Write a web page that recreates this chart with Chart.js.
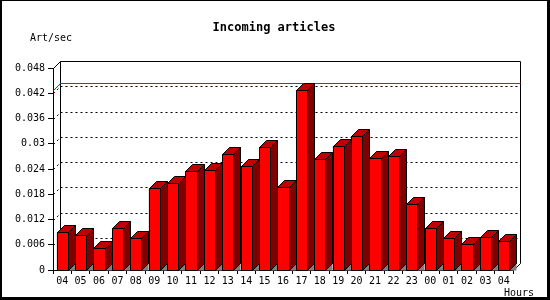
<!DOCTYPE html>
<html lang="en">
<head>
  <meta charset="UTF-8">
  <title>Incoming articles</title>
  <style>
    html, body {
      margin: 0;
      padding: 0;
      background: #fff;
    }
    #wrap {
      width: 550px;
      height: 300px;
    }
  </style>
</head>
<body>
  <div id="wrap"><canvas id="articlesChart" width="550" height="300"></canvas></div>

  <script src="https://cdn.jsdelivr.net/npm/chart.js"></script>
  <script>
    // data
    const hours = ['04', '05', '06', '07', '08', '09', '10', '11', '12', '13', '14', '15', '16',
                   '17', '18', '19', '20', '21', '22', '23', '00', '01', '02', '03', '04'];
    const artPerSec = [0.0090, 0.0082, 0.0052, 0.0100, 0.0075, 0.0194, 0.0206, 0.0235, 0.0237,
                       0.0275, 0.0247, 0.0292, 0.0197, 0.0428, 0.0264, 0.0295, 0.0318, 0.0265,
                       0.0271, 0.0158, 0.0100, 0.0076, 0.0061, 0.0078, 0.0068];
    const yTickValues = [0, 0.006, 0.012, 0.018, 0.024, 0.03, 0.036, 0.042, 0.048];
    const yTickLabels = ['0', '0.006', '0.012', '0.018', '0.024', '0.03', '0.036', '0.042', '0.048'];

    const DEPTH = 7; // 3d offset in px
    const MONO = '"DejaVu Sans Mono", monospace';

    Chart.defaults.font.family = MONO;
    Chart.defaults.font.size = 10;
    Chart.defaults.color = '#000';

    const line = (ctx, x1, y1, x2, y2) => {
      ctx.beginPath();
      ctx.moveTo(x1, y1);
      ctx.lineTo(x2, y2);
      ctx.stroke();
    };

    const poly = (ctx, pts, fill, stroke) => {
      ctx.beginPath();
      ctx.moveTo(pts[0][0], pts[0][1]);
      for (let i = 1; i < pts.length; i++) ctx.lineTo(pts[i][0], pts[i][1]);
      ctx.closePath();
      ctx.fillStyle = fill;
      ctx.fill();
      if (stroke) {
        ctx.strokeStyle = stroke;
        ctx.stroke();
      }
    };

    // back wall, dashed grid and max line, drawn behind the bars
    const backWall = {
      id: 'backWall',
      beforeDatasetsDraw(chart) {
        const { ctx, chartArea: a, scales: { y } } = chart;
        const d = DEPTH;
        const L = Math.round(a.left) + 0.5, R = Math.round(a.right) + 0.5;
        const T = Math.round(a.top) + 0.5, B = Math.round(a.bottom) + 0.5;
        ctx.save();
        ctx.lineWidth = 1;
        ctx.strokeStyle = '#000';

        ctx.setLineDash([2, 3]);
        yTickValues.slice(1, -1).forEach(v => {
          const py = Math.round(y.getPixelForValue(v)) + 0.5;
          line(ctx, L, py, L + d, py - d);
          line(ctx, L + d, py - d, R + d, py - d);
        });
        ctx.setLineDash([]);

        line(ctx, L, T, L + d, T - d);
        line(ctx, L + d, T - d, R + d, T - d);
        line(ctx, L + d, T - d, L + d, B - d);
        line(ctx, R + d, T - d, R + d, B - d);
        line(ctx, R, B, R + d, B - d);

        // red line at the peak value
        const peak = Math.max(...artPerSec);
        const pm = Math.round(y.getPixelForValue(peak)) + 0.5;
        ctx.strokeStyle = '#ff0000';
        line(ctx, L, pm, L + d, pm - d);
        line(ctx, L + d, pm - d, R + d, pm - d);
        ctx.restore();
      }
    };

    // top and side faces of every bar, from the bar elements
    const bars3d = {
      id: 'bars3d',
      afterDatasetsDraw(chart) {
        const { ctx } = chart;
        const d = DEPTH;
        ctx.save();
        ctx.lineWidth = 1;
        chart.getDatasetMeta(0).data.forEach(el => {
          const p = el.getProps(['x', 'y', 'base', 'width'], true);
          const l = Math.round(p.x - p.width / 2) + 0.5;
          const r = Math.round(p.x + p.width / 2) + 0.5;
          const t = Math.round(p.y) + 0.5;
          const b = Math.round(p.base) + 0.5;
          poly(ctx, [[r, b], [r + d, b - d], [r + d, b]], '#808080');
          poly(ctx, [[l, t], [r, t], [r, b], [l, b]], '#ff0000', '#000');
          poly(ctx, [[l, t], [l + d, t - d], [r + d, t - d], [r, t]], '#c00000', '#000');
          poly(ctx, [[r, t], [r + d, t - d], [r + d, b - d], [r, b]], '#800000', '#000');
        });
        ctx.restore();
      }
    };

    // titles and frame
    const labels = {
      id: 'labels',
      afterDraw(chart) {
        const { ctx } = chart;
        ctx.save();
        ctx.fillStyle = '#000';
        ctx.textBaseline = 'alphabetic';
        ctx.font = 'bold 12px ' + MONO;
        ctx.textAlign = 'center';
        ctx.fillText('Incoming articles', 274, 31);
        ctx.font = '10px ' + MONO;
        ctx.textAlign = 'left';
        ctx.fillText('Art/sec', 30, 41);
        ctx.fillText('Hours', 504, 296);

        ctx.fillRect(0, 0, 550, 1);
        ctx.fillRect(0, 0, 2, 300);
        ctx.fillRect(547, 0, 3, 300);
        ctx.fillRect(0, 297, 550, 3);
        ctx.restore();
      }
    };

    new Chart(document.getElementById('articlesChart'), {
      type: 'bar',
      data: {
        labels: hours,
        datasets: [{
          label: 'Art/sec',
          data: artPerSec,
          backgroundColor: '#ff0000',
          borderColor: '#000',
          borderWidth: 1,
          borderSkipped: false,
          categoryPercentage: 1,
          barPercentage: 0.6
        }]
      },
      options: {
        responsive: false,
        animation: false,
        devicePixelRatio: 1,
        layout: { padding: { top: 68, right: 37, left: 0, bottom: 0 } },
        plugins: {
          legend: { display: false },
          title: { display: false },
          tooltip: { enabled: false }
        },
        scales: {
          x: {
            afterFit(scale) { scale.height = 30; },
            grid: { drawOnChartArea: false, drawTicks: true, tickLength: 4, color: '#000', offset: true },
            border: { display: true, color: '#000', width: 1 },
            ticks: { maxRotation: 0, autoSkip: false, padding: 1 }
          },
          y: {
            min: 0,
            max: 0.048,
            afterFit(scale) { scale.width = 53; },
            afterBuildTicks(scale) { scale.ticks = yTickValues.map(v => ({ value: v })); },
            grid: { drawOnChartArea: false, drawTicks: true, tickLength: 5, color: '#000' },
            border: { display: true, color: '#000', width: 1 },
            ticks: {
              padding: 3,
              callback: (v, i) => yTickLabels[i]
            }
          }
        }
      },
      plugins: [backWall, bars3d, labels]
    });
  </script>
</body>
</html>
